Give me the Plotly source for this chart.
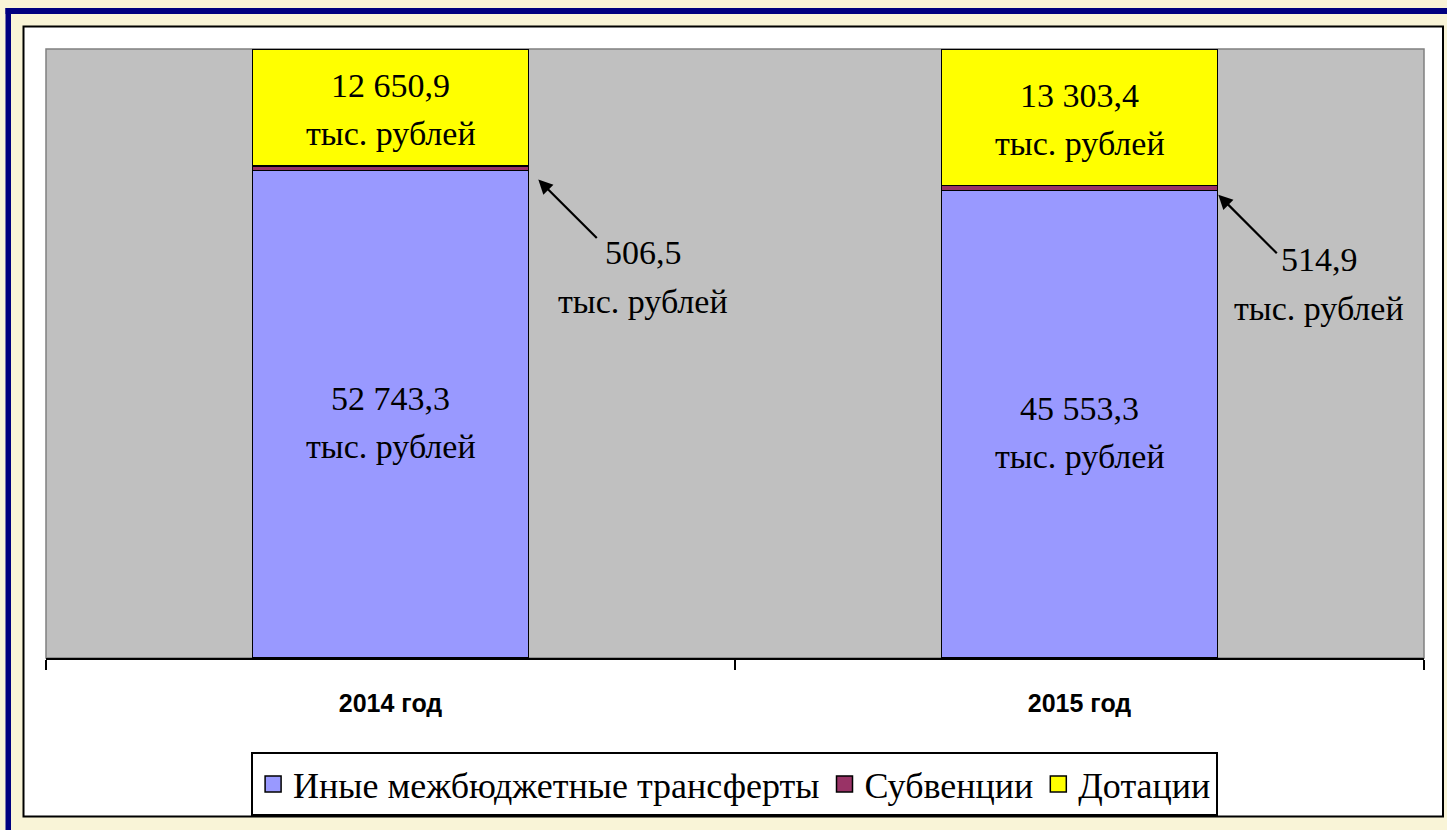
import plotly.graph_objects as go

# ---- data ----
years = ["2014 год", "2015 год"]
inye = [52743.3, 45553.3]        # Иные межбюджетные трансферты
subv = [506.5, 514.9]            # Субвенции
dot = [12650.9, 13303.4]         # Дотации
unit = "тыс. рублей"
series_names = ["Иные межбюджетные трансферты", "Субвенции", "Дотации"]
colors = ["#9999FF", "#993366", "#FFFF00"]

W, H = 1447, 830
L, R, T, B = 46, 23, 49, 172
PW, PH = W - L - R, H - T - B


def px(X):
    return (X - L) / PW


def py(Y):
    return (H - B - Y) / PH


def fmt(v):
    return f"{v:,.1f}".replace(",", " ").replace(".", ",")


fig = go.Figure()
for name, vals, col in zip(series_names, [inye, subv, dot], colors):
    fig.add_trace(go.Bar(
        x=years, y=vals, name=name, showlegend=False,
        marker=dict(color=col, line=dict(color="black", width=1.5)),
        width=0.4, hoverinfo="skip",
    ))
# legend entries with larger square keys
for name, col in zip(series_names, colors):
    fig.add_trace(go.Scatter(
        x=[None], y=[None], mode="markers", name=name,
        marker=dict(symbol="square", size=16, color=col, line=dict(color="black", width=1.5)),
    ))

totals = [a + b + c for a, b, c in zip(inye, subv, dot)]
serif = "Liberation Serif"
FS = 34
ann = []
# pixel offsets for callouts (layout only)
arrow_dx = [10, 1]
arrow_dy = [-9, -4]
lab_dx = [105, 101]
lab_dy = [-73, -65]
for i, yr in enumerate(years):
    tot = totals[i]
    blue_mid = inye[i] / tot * 50
    yel_mid = (inye[i] + subv[i] + dot[i] / 2) / tot * 100
    blue_top = inye[i] / tot * 100
    for mid, val, shift in [(blue_mid, inye[i], -8), (yel_mid, dot[i], -2)]:
        ann.append(dict(x=yr, y=mid, xref="x", yref="y", text=fmt(val), showarrow=False,
                        yshift=24 + shift,
                        font=dict(family=serif, size=FS, color="black")))
        ann.append(dict(x=yr, y=mid, xref="x", yref="y", text=unit, showarrow=False,
                        yshift=-24 + shift,
                        font=dict(family=serif, size=FS, color="black")))
    # arrow to subvention segment
    ann.append(dict(x=i + 0.2, y=blue_top, xref="x", yref="y", text=" ",
                    showarrow=True, arrowhead=2, arrowsize=1.3, arrowwidth=2.2,
                    arrowcolor="black", ax=60, ay=60, font=dict(size=1),
                    xshift=arrow_dx[i], yshift=arrow_dy[i]))
    ann.append(dict(x=i + 0.2, y=blue_top, xref="x", yref="y", text=fmt(subv[i]),
                    showarrow=False, xshift=arrow_dx[i] + lab_dx[i], yshift=arrow_dy[i] + lab_dy[i],
                    font=dict(family=serif, size=FS, color="black")))
    ann.append(dict(x=i + 0.2, y=blue_top, xref="x", yref="y", text=unit,
                    showarrow=False, xshift=arrow_dx[i] + lab_dx[i], yshift=arrow_dy[i] + lab_dy[i] - 49,
                    font=dict(family=serif, size=FS, color="black")))

shapes = [
    # cream slide frame with navy border
    dict(type="rect", xref="paper", yref="paper", x0=px(5.5), x1=px(1460), y0=py(8), y1=py(14),
         fillcolor="#000080", line=dict(width=0), layer="below"),
    dict(type="rect", xref="paper", yref="paper", x0=px(5.5), x1=px(11), y0=py(8), y1=py(840),
         fillcolor="#000080", line=dict(width=0), layer="below"),
    # white chart area
    dict(type="rect", xref="paper", yref="paper", x0=px(23.5), x1=px(1443), y0=py(26.5), y1=py(816.5),
         fillcolor="white", line=dict(color="black", width=2), layer="below"),
    # gray plot area
    dict(type="rect", xref="paper", yref="paper", x0=0, x1=1, y0=0, y1=1,
         fillcolor="#C0C0C0", line=dict(color="#808080", width=1.5), layer="below"),
]

fig.update_layout(
    width=W, height=H,
    margin=dict(l=L, r=R, t=T, b=B, pad=0),
    paper_bgcolor="#F9F4D7",
    plot_bgcolor="#C0C0C0",
    barmode="stack", barnorm="percent",
    bargap=0.6,
    showlegend=True,
    legend=dict(orientation="h", x=0.4997, xanchor="center", y=py(752), yanchor="top",
                bgcolor="white", bordercolor="black", borderwidth=2,
                font=dict(family=serif, size=36, color="black"),
                traceorder="normal", itemclick=False, itemdoubleclick=False,
                itemwidth=30, tracegroupgap=0),
    xaxis=dict(showline=True, linecolor="black", linewidth=2, ticks="outside",
               tickson="boundaries", ticklen=10, tickwidth=2, tickcolor="black",
               showgrid=False, ticklabelstandoff=22,
               tickfont=dict(family="Liberation Sans", size=25,
                             color="black", weight="bold")),
    yaxis=dict(visible=False, range=[0, 100], showgrid=False, zeroline=False),
    shapes=shapes,
    annotations=ann,
)

fig.write_html("out.html", config={"displayModeBar": False},
               post_script="document.body.style.margin='0';document.body.style.overflow='hidden';")
